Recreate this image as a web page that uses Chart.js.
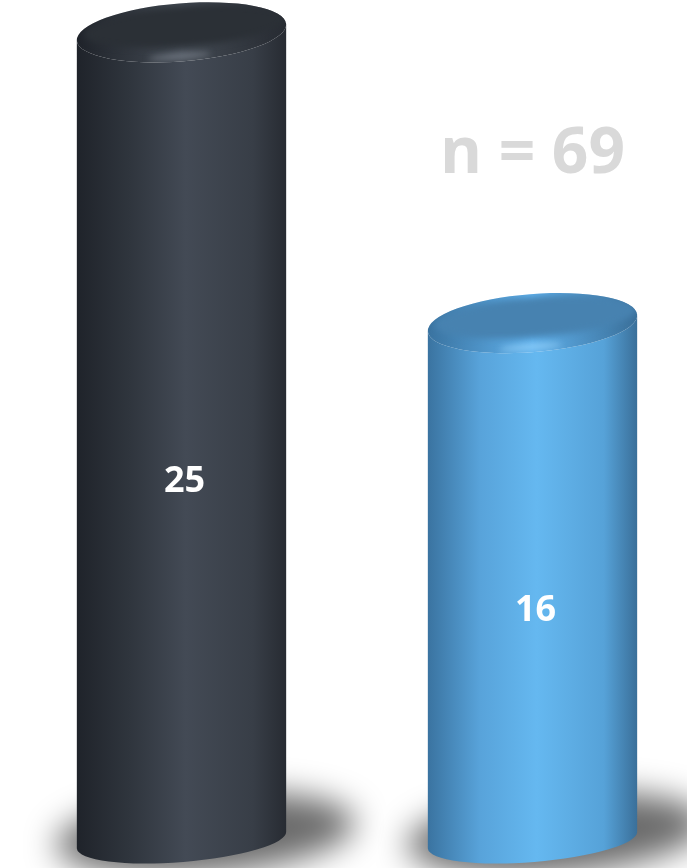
<!DOCTYPE html>
<html>
<head>
<meta charset="utf-8">
<script src="https://cdn.jsdelivr.net/npm/chart.js@4.4.0/dist/chart.umd.min.js"></script>
<style>
  html, body { margin: 0; padding: 0; background: #fff; overflow: hidden; }
  #wrap { width: 710px; height: 868px; }
</style>
</head>
<body>
<div id="wrap"><canvas id="chart" width="710" height="868"></canvas></div>
<script>
// Chart data
const categories = ['Group 1', 'Group 2'];
const values = [25, 16];
const sampleSize = 69;

// Cylinder colours (body gradient stops, cap, rim)
const palette = [
    {
        body: ['#1f232a', '#2f353d', '#434a55', '#383e47', '#272b32'],
        cap: '#2b3036',
        rim: '#434a53',
        shine: '#8a929c'
    },
    {
        body: ['#3a73a0', '#58a3da', '#65b8f0', '#56a2d8', '#3a6f99'],
        cap: '#4782b0',
        rim: '#60b1ec',
        shine: '#a4dcff'
    }
];

const TILT = -0.08;    // slight rotation of the ellipses
const RY_TOP = 29;     // half height of the top ellipse
const RY_BASE = 22;    // half height of the bottom ellipse

// Soft shadows behind the cylinder bases
function drawShadows(chart) {
    const ctx = chart.ctx;
    const meta = chart.getDatasetMeta(0);
    meta.data.forEach(bar => {
        const { x, base, width } = bar.getProps(['x', 'base', 'width'], true);
        const rx = width / 2;
        ctx.save();
        ctx.filter = 'blur(16px)';
        ctx.fillStyle = 'rgba(0, 0, 0, 0.58)';
        ctx.beginPath();
        ctx.ellipse(x + 24, base - 6, rx + 45, RY_BASE + 18, TILT, 0, Math.PI * 2);
        ctx.fill();
        ctx.restore();
    });
}

// Cylinder bodies, caps and value labels
function drawCylinders(chart) {
    const ctx = chart.ctx;
    const meta = chart.getDatasetMeta(0);
    meta.data.forEach((bar, i) => {
        const { x, y, base, width } = bar.getProps(['x', 'y', 'base', 'width'], true);
        const rx = width / 2;
        const c = palette[i];

        // body
        const grad = ctx.createLinearGradient(x - rx, 0, x + rx, 0);
        const stops = [0, 0.25, 0.52, 0.84, 1];
        c.body.forEach((col, k) => grad.addColorStop(stops[k], col));
        ctx.save();
        ctx.beginPath();
        ctx.ellipse(x, base, rx, RY_BASE, TILT, 0, Math.PI);
        ctx.ellipse(x, y, rx, RY_TOP, TILT, Math.PI, 0, true);
        ctx.closePath();
        ctx.fillStyle = grad;
        ctx.fill();
        ctx.restore();

        // cap: rim first, then the inner face
        ctx.save();
        ctx.beginPath();
        ctx.ellipse(x, y, rx, RY_TOP, TILT, 0, Math.PI * 2);
        ctx.clip();
        const rimGrad = ctx.createLinearGradient(x - rx, 0, x + rx, 0);
        rimGrad.addColorStop(0, c.body[0]);
        rimGrad.addColorStop(0.5, c.rim);
        rimGrad.addColorStop(1, c.body[4]);
        ctx.fillStyle = rimGrad;
        ctx.fillRect(x - rx - 2, y - RY_TOP - 2, width + 4, RY_TOP * 2 + 4);

        ctx.filter = 'blur(3px)';
        ctx.fillStyle = c.cap;
        ctx.beginPath();
        ctx.ellipse(x + 3, y - 6, rx - 4, RY_TOP - 9, TILT, 0, Math.PI * 2);
        ctx.fill();

        // shine on the front rim
        ctx.filter = 'blur(3px)';
        ctx.fillStyle = c.shine;
        ctx.globalAlpha = 0.7;
        ctx.beginPath();
        ctx.ellipse(x - 2, y + RY_TOP - 5, rx * 0.3, 2.5, TILT, 0, Math.PI * 2);
        ctx.fill();
        ctx.restore();

        // value label
        ctx.save();
        ctx.fillStyle = '#ffffff';
        ctx.font = 'bold 36px "Open Sans", sans-serif';
        ctx.textAlign = 'center';
        ctx.textBaseline = 'middle';
        ctx.fillText(String(values[i]), x + 3, y + (base - y) * 0.557);
        ctx.restore();
    });

    // sample size note above the second bar
    const last = meta.data[meta.data.length - 1];
    ctx.save();
    ctx.fillStyle = '#d9d9d9';
    ctx.font = 'bold 64px "Open Sans", sans-serif';
    ctx.textAlign = 'center';
    ctx.textBaseline = 'middle';
    ctx.fillText('n = ' + sampleSize, last.x, 155);
    ctx.restore();
}

const cylinderPlugin = {
    id: 'cylinders',
    beforeDatasetsDraw: drawShadows,
    afterDatasetsDraw: drawCylinders
};

new Chart(document.getElementById('chart'), {
    type: 'bar',
    data: {
        labels: categories,
        datasets: [{
            data: values,
            backgroundColor: 'rgba(0,0,0,0)',
            borderWidth: 0,
            barThickness: 210
        }]
    },
    options: {
        responsive: false,
        animation: false,
        devicePixelRatio: 1,
        layout: { padding: { left: 6, right: 2, top: 0, bottom: 28 } },
        plugins: {
            legend: { display: false },
            tooltip: { enabled: false }
        },
        scales: {
            x: { display: false },
            y: { display: false, min: 0, max: 26 }
        }
    },
    plugins: [cylinderPlugin]
});
</script>
</body>
</html>
